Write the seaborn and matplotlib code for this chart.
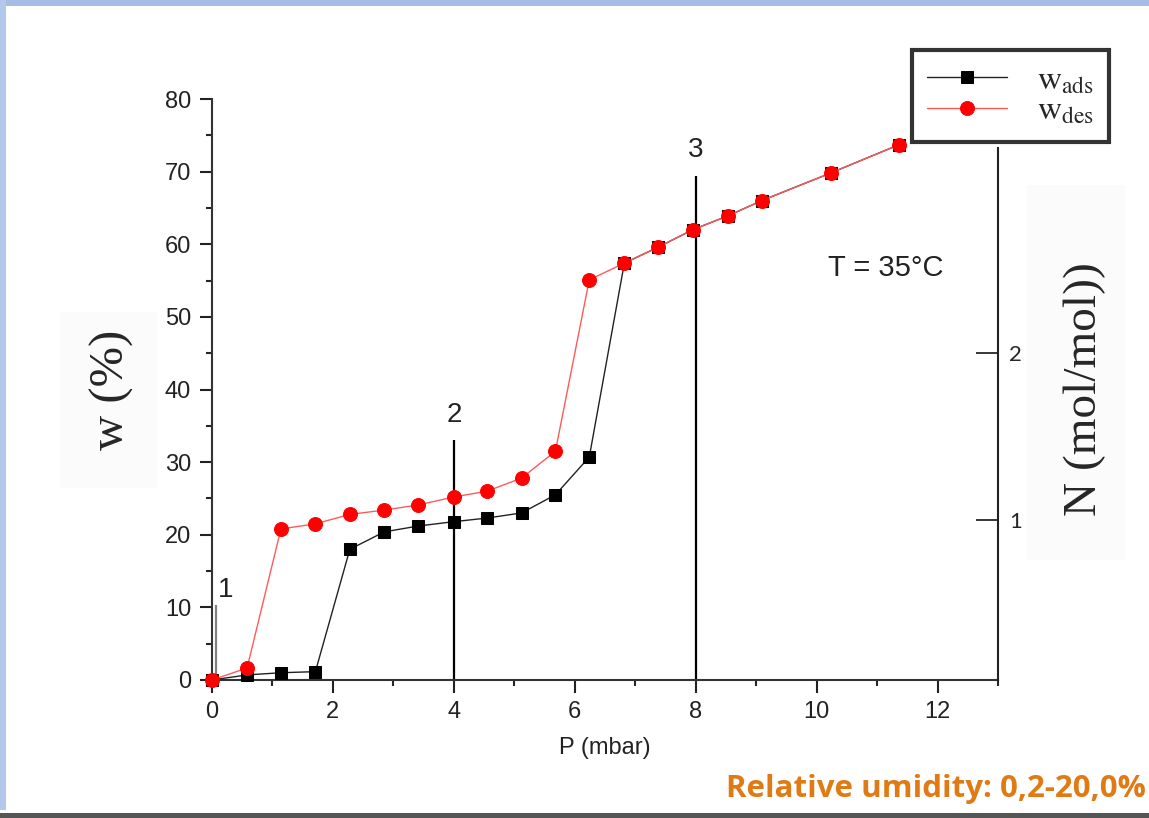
import matplotlib
matplotlib.use("Agg")
import matplotlib.pyplot as plt
import seaborn as sns
import pandas as pd
from matplotlib.patches import Rectangle

# ---------------- data ----------------
p_ads = [0.0, 0.58, 1.14, 1.71, 2.28, 2.85, 3.41, 4.0, 4.55, 5.12, 5.68, 6.24, 6.82,
         7.38, 7.95, 8.53, 9.09, 10.23, 11.36]
w_ads = [0.0, 0.7, 1.0, 1.15, 18.0, 20.4, 21.2, 21.8, 22.3, 23.0, 25.5, 30.7, 57.4,
         59.6, 62.0, 63.9, 66.0, 69.8, 73.7]
p_des = [0.0, 0.58, 1.14, 1.71, 2.28, 2.85, 3.41, 4.0, 4.55, 5.12, 5.68, 6.24, 6.82,
         7.38, 7.95, 8.53, 9.09, 10.23, 11.36]
w_des = [0.0, 1.65, 20.8, 21.5, 22.8, 23.4, 24.1, 25.2, 26.0, 27.8, 31.5, 55.1, 57.4,
         59.6, 62.0, 63.9, 66.0, 69.8, 73.7]

marker_p = [0.07, 4.0, 8.0]
marker_top = [10.3, 33.0, 69.4]
marker_labels = ["1", "2", "3"]

x_ticks = [0, 2, 4, 6, 8, 10, 12]
y_ticks = [0, 10, 20, 30, 40, 50, 60, 70, 80]
n_ticks = [1, 2]

legend_labels = [r"$\mathrm{w}_{\mathrm{ads}}$", r"$\mathrm{w}_{\mathrm{des}}$"]

df_ads = pd.DataFrame({"P": p_ads, "w": w_ads})
df_des = pd.DataFrame({"P": p_des, "w": w_des})

# ---------------- style ----------------
sns.set_style("ticks")
plt.rcParams["font.family"] = ["Liberation Sans", "DejaVu Sans"]
plt.rcParams["mathtext.fontset"] = "stix"

fig = plt.figure(figsize=(11.49, 8.18), dpi=100)
fig.patch.set_facecolor("white")

# slide-like borders
fig.add_artist(Rectangle((0, 0.993), 1, 0.012, transform=fig.transFigure,
                         color="#A4BCE6", lw=0, zorder=0))
fig.add_artist(Rectangle((0, 0.01), 0.0055, 0.99, transform=fig.transFigure,
                         color="#B4C8EC", lw=0, zorder=0))
fig.add_artist(Rectangle((0, 0), 1, 0.006, transform=fig.transFigure,
                         color="#555555", lw=0, zorder=0))
# faint label boxes
fig.add_artist(Rectangle((60 / 1149, 1 - 488 / 818), 97 / 1149, 176 / 818,
                         transform=fig.transFigure, color="#fbfbfb", lw=0, zorder=0))
fig.add_artist(Rectangle((1027 / 1149, 1 - 560 / 818), 98 / 1149, 375 / 818,
                         transform=fig.transFigure, color="#fbfbfb", lw=0, zorder=0))

ax = fig.add_axes([212 / 1149, 1 - 680 / 818, (998 - 212) / 1149, (680 - 99) / 818])
ax.patch.set_alpha(0)

sns.lineplot(data=df_ads, x="P", y="w", ax=ax, color="#222222", lw=1.0,
             marker="s", markersize=9, markeredgecolor="black", markerfacecolor="black",
             estimator=None, label=legend_labels[0], clip_on=False, zorder=3)
sns.lineplot(data=df_des, x="P", y="w", ax=ax, color="#ff5a5a", lw=1.0,
             marker="o", markersize=10, markeredgecolor="red", markerfacecolor="red",
             estimator=None, label=legend_labels[1], clip_on=False, zorder=4)

# vertical reference lines
line_colors = ["#808080", "black", "black"]
for xp, top, c in zip(marker_p, marker_top, line_colors):
    ax.vlines(xp, 0, top, color=c, lw=1.6, zorder=2, clip_on=False)
label_dx = [0.15, 0.0, 0.0]
label_dy = [2.1, 3.5, 3.6]
for xp, top, lab, dx, dy in zip(marker_p, marker_top, marker_labels, label_dx, label_dy):
    ax.text(xp + dx, top + dy, lab, ha="center", va="center", fontsize=20, color="#222222")

ax.text(11.14, 56.7, "T = 35°C", ha="center", va="center", fontsize=21, color="#222222")

ax.set_xlim(0, 13)
ax.set_ylim(0, 80)
ax.set_xticks(x_ticks)
ax.set_yticks(y_ticks)
ax.set_xticks([1, 3, 5, 7, 9, 11, 13], minor=True)
ax.set_yticks([5, 15, 25, 35, 45, 55, 65, 75], minor=True)
ax.tick_params(axis="both", which="major", direction="out", length=9, width=1.5,
               labelsize=17, colors="#222222", pad=6)
ax.tick_params(axis="both", which="minor", direction="out", length=4.5, width=1.5)
ax.set_xlabel("P (mbar)", fontsize=17, color="#222222", labelpad=10)
ax.set_ylabel("w (%)", fontsize=35, family=["Liberation Serif"], labelpad=22)
for s in ["top", "right"]:
    ax.spines[s].set_visible(False)
for s in ["left", "bottom"]:
    ax.spines[s].set_linewidth(1.5)
    ax.spines[s].set_color("#333333")

# right axis N (mol/mol)
ax2 = ax.twinx()
n_bottom = 1 - (680 - 520) / 167
n_top = 2 + (353 - 99) / 167
ax2.set_ylim(n_bottom, n_top)
ax2.set_yticks(n_ticks)
ax2.set_yticklabels([str(t) for t in n_ticks], family=["Lato", "DejaVu Sans"])
ax2.tick_params(axis="y", direction="in", length=16, width=1.3, labelsize=16, pad=8)
for s in ["top", "left", "bottom"]:
    ax2.spines[s].set_visible(False)
ax2.spines["right"].set_bounds(n_bottom, 2 + (353 - 148) / 167)
ax2.spines["right"].set_linewidth(1.5)
ax2.spines["right"].set_color("#222222")
ax2.set_ylabel("N (mol/mol))", fontsize=34, family=["Liberation Serif"], labelpad=30)

# legend
handles, labels = ax.get_legend_handles_labels()
ax.get_legend().remove()
leg = fig.legend(handles, labels, loc="upper left",
                 bbox_to_anchor=(912 / 1149, 1 - 50 / 818), borderaxespad=0,
                 frameon=True, fancybox=False, fontsize=24, handlelength=2.4,
                 labelspacing=0.0, borderpad=0.45, handletextpad=0.9)
leg.get_frame().set_edgecolor("black")
leg.get_frame().set_linewidth(3)

fig.text(1146 / 1149, 1 - 789 / 818, "Relative umidity: 0,2-20,0%", ha="right",
         va="center", fontsize=22.5, fontweight="bold", color="#E07A14",
         family=["Open Sans", "DejaVu Sans"])

fig.savefig("out.png", dpi=100)
